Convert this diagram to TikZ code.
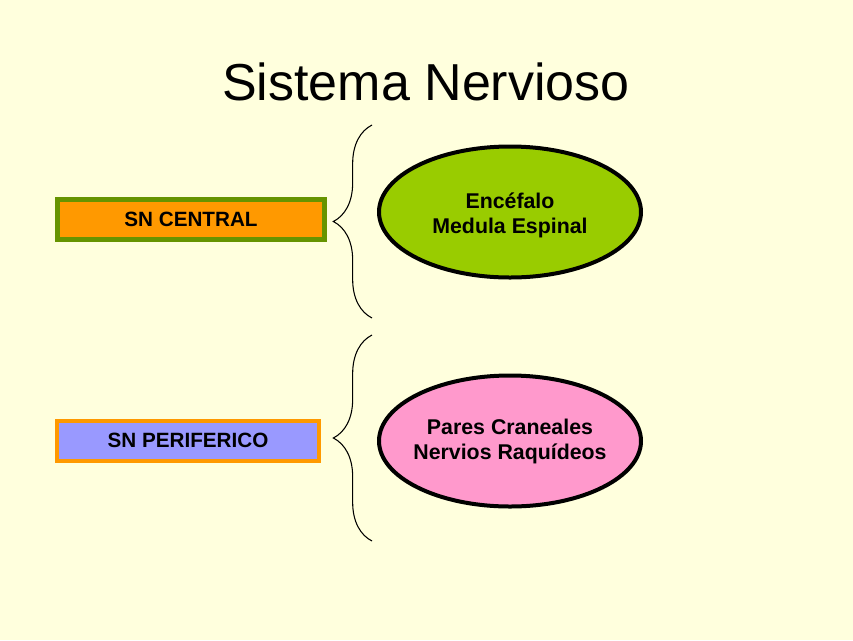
\documentclass[tikz,border=0pt]{standalone}
\usepackage{fontspec}
\setmainfont{Liberation Sans}
\usetikzlibrary{shapes.geometric,decorations.pathreplacing}
\definecolor{fondo}{RGB}{255,255,221}
\definecolor{verdeosc}{RGB}{102,148,0}
\definecolor{verde}{RGB}{153,204,0}
\definecolor{naranja}{RGB}{255,153,0}
\definecolor{lila}{RGB}{153,153,255}
\definecolor{rosa}{RGB}{255,153,204}

\begin{document}
\begin{tikzpicture}[x=0.75pt,y=-0.75pt,
    caja/.style={rectangle,inner sep=0pt,minimum height=30pt,font=\bfseries\fontsize{15.5}{18}\selectfont},
    elipse/.style={ellipse,draw=black,line width=3pt,inner sep=0pt,minimum width=196.5pt,minimum height=98.25pt},
    texto/.style={align=center,font=\bfseries\fontsize{16}{18.75}\selectfont},
    llave/.style={decorate,decoration={brace,amplitude=29pt},line width=0.8pt}]

    \fill[fondo] (0,0) rectangle (853,640);

    \node (titulo) at (426,82) {\fontsize{39}{46}\selectfont Sistema Nervioso};

    \node[caja,draw=verdeosc,fill=naranja,line width=3.75pt,minimum width=200pt] (central) at (191,219.5) {SN CENTRAL};
    \node[caja,draw=naranja,fill=lila,line width=3pt,minimum width=196pt] (periferico) at (188,440.5) {SN PERIFERICO};

    \node[elipse,fill=verde] (snc) at (510,212) {};
    \node[texto,yshift=-2.5pt] (sncT) at (snc.center) {Encéfalo\\Medula Espinal};
    \node[elipse,fill=rosa] (snp) at (510,441) {};
    \node[texto] (snpT) at (snp.center) {Pares Craneales\\Nervios Raquídeos};

    \coordinate (a1) at (372,318);
    \coordinate (b1) at (372,125);
    \coordinate (a2) at (372,541);
    \coordinate (b2) at (372,335);
    \draw[llave] (a1) -- (b1);
    \draw[llave] (a2) -- (b2);

\end{tikzpicture}
\end{document}
